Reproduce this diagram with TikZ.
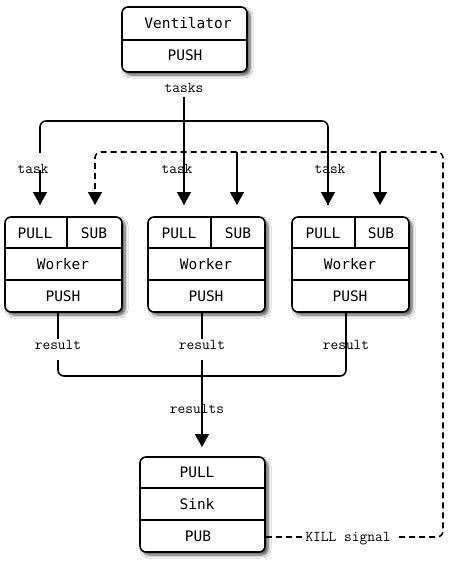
\documentclass[tikz,border=0pt]{standalone}
\usepackage{fontspec}
\newfontfamily\boxfont{DejaVu Sans Mono}
\usetikzlibrary{arrows.meta,shadows.blur}
\begin{document}
\begin{tikzpicture}[x=1pt,y=-1pt,
  box/.style={draw, line width=1.6pt, rounded corners=6pt, fill=white, inner sep=0pt,
    blur shadow={shadow xshift=3pt, shadow yshift=-3pt, shadow blur steps=6, shadow blur radius=3pt, shadow opacity=70}},
  btxt/.style={font=\boxfont\fontsize{14.5}{16}\selectfont, inner sep=0pt, text height=10.6pt, text depth=0pt},
  lbl/.style={font=\ttfamily\fontsize{15}{17}\selectfont, inner sep=1pt, anchor=base},
  conn/.style={line width=1.6pt},
  arr/.style={conn, -{Triangle[width=14pt,length=13pt]}},
  kdash/.style={conn, dash pattern=on 6pt off 4pt},
]
\fill[white] (0,0) rectangle (450,576);
\useasboundingbox (0,0) rectangle (450,576);

% Ventilator
\node[box, minimum width=125pt, minimum height=65pt] (vent) at (184.5,39.5) {};
\draw[conn] (vent.west |- 0,40) -- (vent.east |- 0,40);
\node[btxt] (ventname) at (188,23) {Ventilator};
\node[btxt] (ventpush) at (185,55) {PUSH};

% Workers
\node[box, minimum width=117pt, minimum height=95pt] (w1) at (63.5,264.5) {};
\node[box, minimum width=117pt, minimum height=95pt] (w2) at (206.5,264.5) {};
\node[box, minimum width=117pt, minimum height=95pt] (w3) at (350.5,264.5) {};
\foreach \w/\d in {w1/67,w2/211,w3/355}{
  \draw[conn] (\w.west |- 0,248) -- (\w.east |- 0,248);
  \draw[conn] (\w.west |- 0,280) -- (\w.east |- 0,280);
  \draw[conn] (\d,217) -- (\d,248);
}
\node[btxt] (w1pull) at (35,233) {PULL};
\node[btxt] (w1subt) at (94,233) {SUB};
\node[btxt] (w1name) at (63,264) {Worker};
\node[btxt] (w1push) at (63,296) {PUSH};
\node[btxt] (w2pull) at (179,233) {PULL};
\node[btxt] (w2subt) at (238,233) {SUB};
\node[btxt] (w2name) at (206,264) {Worker};
\node[btxt] (w2push) at (206,296) {PUSH};
\node[btxt] (w3pull) at (323,233) {PULL};
\node[btxt] (w3subt) at (381,233) {SUB};
\node[btxt] (w3name) at (350,264) {Worker};
\node[btxt] (w3push) at (350,296) {PUSH};

% Sink
\node[box, minimum width=125pt, minimum height=95pt] (sink) at (202.5,504.5) {};
\draw[conn] (sink.west |- 0,488) -- (sink.east |- 0,488);
\draw[conn] (sink.west |- 0,520) -- (sink.east |- 0,520);
\node[btxt] (sinkpull) at (197,472) {PULL};
\node[btxt] (sinkname) at (197,504) {Sink};
\node[btxt] (sinkpub) at (198,536) {PUB};

% labels
\node[lbl] (tasks) at (184,92.5) {tasks};
\node[lbl] (task1) at (33,173) {task};
\node[lbl] (task2) at (177,173) {task};
\node[lbl] (task3) at (330,173) {task};
\node[lbl] (r1) at (58,349) {result};
\node[lbl] (r2) at (202,349) {result};
\node[lbl] (r3) at (346,349) {result};
\node[lbl] (rs) at (197,413) {results};
\node[lbl, inner sep=2pt] (kill) at (348,541) {KILL signal};

% coordinates
\coordinate (w1in) at (40,205);
\coordinate (w1sub) at (95,205);
\coordinate (w2in) at (184,205);
\coordinate (w2sub) at (237,205);
\coordinate (w3in) at (328,205);
\coordinate (w3sub) at (380,205);
\coordinate (sinkin) at (202,447);
\coordinate (t1a) at (40,153);
\coordinate (t1b) at (40,170);
\coordinate (busL) at (40,121);
\coordinate (busR) at (328,121);
\coordinate (kc0) at (399,537);
\coordinate (kc1) at (443,537);
\coordinate (kc2) at (443,152);
\coordinate (kc3) at (95,152);
\coordinate (rb1) at (58,360);
\coordinate (rbL) at (58,376);
\coordinate (rbR) at (346,376);
\coordinate (rb2) at (202,360);
\coordinate (tasktop) at (184,97);

% task distribution
\draw[arr] (tasktop) -- (w2in);
\draw[conn, rounded corners=6pt] (t1a) -- (busL) -- (busR) -- (w3in);
\draw[arr] (busR |- t1a) -- (w3in);
\draw[arr] (t1b) -- (w1in);

% kill signal
\draw[kdash] (sink.east |- kc1) -- (kill.west |- kc1);
\draw[kdash, rounded corners=6pt, -{Triangle[width=14pt,length=13pt]}] (kc0) -- (kc1) -- (kc2) -- (kc3) -- (w1sub);
\draw[arr] (kc3 -| w2sub) -- (w2sub);
\draw[arr] (kc3 -| w3sub) -- (w3sub);

% results
\draw[conn] (w1.south -| r1) -- (r1.north);
\draw[conn, rounded corners=6pt] (rb1) -- (rbL) -- (rbR) -- (w3.south -| rbR);
\draw[conn] (w2.south -| r2) -- (r2.north);
\draw[arr] (rb2) -- (sinkin);
\end{tikzpicture}
\end{document}
